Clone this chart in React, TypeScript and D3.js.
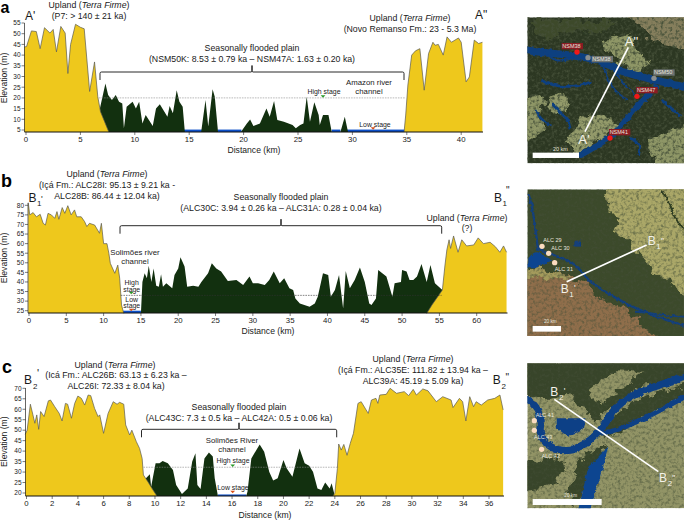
import React from "react";
import * as d3 from "d3";

type P = [number, number];

// ---- Panel a profile readings (km, elevation m)
const aWestUpland: P[] = [[-0.15,43.8],[0.05,44],[0.5,51.3],[0.95,51],[1.3,43],[1.7,52.8],[2.2,50.3],[2.5,52],[2.8,41.5],[3.2,53.4],[3.6,50.3],[3.85,31.4],[4.1,45],[4.55,54.4],[5,53],[5.35,52.3],[5.85,23],[6.3,36.8],[6.6,20.5],[6.85,13.5],[7.6,4.2]];
const aPlain: P[] = [[6.7,13],[7.3,26.7],[7.55,21.3],[7.9,19],[8.25,21.3],[8.55,18.2],[8.85,17.4],[9,5.8],[9.25,15.9],[9.8,18.2],[10.1,15],[10.4,18.2],[10.7,8],[11,12],[11.65,6.9],[11.95,15],[12.3,17],[13,11.2],[13.2,16.2],[13.5,12.8],[13.85,23.6],[14.1,18.2],[14.4,15.9],[14.6,4.1],[16.1,4.1],[16.5,19],[16.75,6.6],[17.15,24],[17.35,20.5],[17.65,4.1],[19.75,4.1],[20.3,8],[20.6,9.9],[20.9,6.9],[21.5,8],[22.1,15],[22.4,11.2],[22.8,18.5],[23.1,9.7],[23.7,8.9],[24.5,7.3],[24.8,5.8],[25.2,7.3],[25.5,8],[25.8,20.5],[26.1,8.9],[26.5,18],[26.9,12],[27,7.3],[27.3,12],[27.8,12],[28.1,4.1],[28.9,4.1],[29.3,11.2],[29.6,4.1]];
const aEastUpland: P[] = [[34.75,4.1],[34.9,12],[35.1,26],[35.45,40],[35.8,42],[36.2,43],[36.6,23.6],[37,40.7],[37.4,46],[37.6,44.6],[37.9,45],[38.35,40],[38.7,48.5],[39.1,46],[39.75,48],[40,46],[40.45,27.5],[40.75,29.8],[41.2,47],[41.6,45.4],[41.95,46]];
const aWater: P[] = [[14.5,16.2],[17.6,19.8],[28.1,28.9],[29.5,34.8]];
const aXTicks = [0,5,10,15,20,25,30,35,40];
const aYTicks = [5,10,15,20,25,30,35,40,45,50,55];

// ---- Panel b
const bWestUpland: P[] = [[-0.1,81.4],[0.1,75],[0.55,76.2],[1,74],[1.5,75.3],[1.9,70.6],[2.2,69.7],[2.55,75.8],[3,75],[3.45,73.2],[3.75,76.7],[4,72.7],[4.45,78.8],[4.8,75.8],[5.2,79.8],[5.65,75],[6.1,77.6],[6.4,74],[7,74],[7.45,71.5],[7.75,68.9],[8.1,70.6],[8.8,69.7],[9.45,65.4],[9.7,70.6],[10,60],[10.45,60],[10.7,55],[10.9,49.7],[11.5,44.5],[11.9,48.8],[12.15,42],[12.4,28],[12.7,23.6]];
const bPlain: P[] = [[15,23.6],[15.2,40],[15.5,44.5],[15.8,41.9],[16.05,48.5],[16.4,40],[16.7,47],[17.05,38],[17.4,37.5],[17.7,44],[17.95,37.5],[18.4,39.3],[19.2,36.7],[19.5,43.6],[20,47],[20.3,52.9],[20.85,48],[21.2,37.5],[22,38],[22.7,37.5],[23.1,40],[24,44.5],[24.5,49.7],[25.1,47],[25.75,45.4],[26.65,40.5],[27.8,41],[28.7,38.4],[29.55,42.8],[30,39.3],[30.7,39.3],[31.6,38.4],[32.2,41],[32.8,45.4],[33.6,39.3],[34.2,41.9],[34.9,36.7],[35.4,35.8],[35.7,31.4],[36.3,28.8],[37.6,27],[38.3,28.8],[38.7,32.3],[39.4,44.5],[40.1,43.6],[40.45,32.3],[41,35.8],[41.55,43.6],[42.1,26.2],[42.45,45.7],[43,36.7],[43.65,41],[44.35,47.5],[45,40],[45.6,28.8],[45.9,28],[46.5,31.4],[46.8,46.2],[47.9,42.8],[48.7,32.3],[49,39.3],[49.85,40],[50,46.2],[50.6,45.4],[51,41],[51.5,41],[52,42.8],[52.6,49.4],[53.3,40],[53.8,48.8],[54.4,39.3],[55.4,35.8],[55.5,23.6]];
const bEastUpland: P[] = [[53.3,23.6],[54,28],[55.4,35.8],[55.75,48.8],[56,56.7],[56.3,62],[56.5,57.5],[56.9,64],[57.5,55.5],[58,62],[58.65,58.8],[59.6,59.3],[60.2,63],[60.9,60],[61.8,60.7],[62.5,58.4],[63.1,55.5],[63.6,58.8],[64,55.5]];
const bWater: P[] = [[12.6,15]];
const bXTicks = [0,5,10,15,20,25,30,35,40,45,50,55,60];
const bYTicks = [25,30,35,40,45,50,55,60,65,70,75,80];

// ---- Panel c
const cWestUpland: P[] = [[-0.1,48],[0.05,50],[0.3,62.4],[0.5,57.3],[0.65,53.3],[0.8,57.3],[0.95,50.4],[1.1,58.9],[1.37,56.5],[1.7,64],[1.87,64.4],[2.2,61.2],[2.55,58],[2.77,54.4],[3.03,62.8],[3.2,62.4],[3.5,55.7],[3.75,62.8],[4,66.3],[4.27,65.2],[4.53,62],[4.8,66.8],[5,66.5],[5.3,60.4],[5.57,56.5],[5.7,57.3],[6,48.5],[6.35,58],[6.75,63.6],[7.05,62.4],[7.25,63.3],[7.57,62.4],[7.72,52.5],[8.03,47.7],[8.2,50],[8.55,44.5],[8.8,41.3],[9,36.5],[9.1,28.6],[9.45,25.4],[9.85,21.4],[10.15,18.6]];
const cPlain: P[] = [[9.2,18.6],[9.3,27],[9.6,28.9],[9.7,23],[10.05,34.2],[10.35,34.2],[10.6,35.3],[11,34.2],[11.4,31],[11.65,23.8],[12.1,19.5],[12.55,22.2],[12.9,35],[13.15,39],[13.3,23.8],[13.55,21.9],[13.85,36.5],[14.2,39.3],[14.5,37.4],[14.65,27],[14.9,18.6],[17.1,18.6],[17.2,20.6],[17.5,36.5],[18.15,43.2],[18.5,39.7],[18.9,30],[19.2,26],[19.55,27],[20,35.8],[20.25,31.8],[20.7,27.8],[21.25,41.3],[21.65,34.2],[22,33],[22.3,30.2],[22.65,22.2],[22.95,21.4],[23.25,25],[23.6,22.2],[23.75,24.6],[24,18.6]];
const cEastUpland: P[] = [[23.85,18.6],[24,19.8],[24.2,31.8],[24.3,43.4],[24.5,40.5],[24.7,43.2],[24.95,38],[25.2,43.7],[25.45,48.5],[25.8,62.8],[26.05,63.6],[26.6,58],[26.85,64.4],[27.2,65.2],[27.35,62.8],[27.5,66.8],[28,67.1],[28.3,70],[28.8,67.6],[29.4,68.4],[29.75,66.5],[30.1,69.5],[30.35,66.8],[30.85,69.7],[31.25,68.8],[31.9,63.6],[32.4,66],[33.05,64.4],[33.2,60.8],[33.7,65.2],[33.95,63.6],[34.2,54.4],[34.5,66],[34.8,61.2],[35,63.6],[35.4,62],[35.9,64.4],[36.45,65.2],[36.85,66.8],[37.1,59.7]];
const cWater: P[] = [[14.9,17.1]];
const cXTicks = d3.range(0, 37, 2);
const cYTicks = [20,25,30,35,40,45,50,55,60,65,70];

const FONT = "'Liberation Sans', Arial, Helvetica, sans-serif";
const YELLOW = "#eec81c";
const DARK = "#12300f";
const BLUE = "#0c4fc8";
const TXT = "#1a1a1a";

type L = { x: number; y: number; t: React.ReactNode; s?: number; a?: string; w?: string; f?: string };
const Lab = ({ x, y, t, s = 8.75, a = "middle", w, f = TXT }: L) => (
  <text x={x} y={y} fontSize={s} textAnchor={a as any} fontWeight={w} fill={f} fontFamily={FONT}>{t}</text>
);
const TF = <tspan fontStyle="italic">Terra Firme</tspan>;

type PanelProps = {
  px: [number, number]; km: [number, number];
  py: [number, number]; el: [number, number];
  base: number; axisX: number; yTop: number; xEnd: number;
  west: P[]; plain: P[]; east: P[]; water: P[];
  xTicks: number[]; yTicks: number[]; xLabY: number;
  flood: number; floodFrom: number; floodTo: number; dashColor: string;
  waterLevel: number; hi: number; hiY: number; lo: number; loY: number;
  brace: [number, number, number, number];
  yTitleY: number; xTitleX: number; xTitleY: number;
};

function Panel(p: PanelProps) {
  const x = d3.scaleLinear().domain(p.km).range(p.px);
  const y = d3.scaleLinear().domain(p.el).range(p.py);
  const area = d3.area<P>().x(d => x(d[0])).y1(d => y(d[1])).y0(p.base);
  const line = d3.line<P>().x(d => x(d[0])).y(d => y(d[1]));
  const [b0, b1, by, bm] = p.brace;
  return (
    <g>
      {p.water.map((w, i) => (
        <rect key={i} x={x(w[0])} width={x(w[1]) - x(w[0])} y={y(p.waterLevel)} height={p.base - y(p.waterLevel)} fill={BLUE} />
      ))}
      <path d={area(p.plain)!} fill={DARK} />
      <path d={area(p.west)!} fill={YELLOW} />
      <path d={area(p.east)!} fill={YELLOW} />
      <path d={line(p.west)!} fill="none" stroke="#5a5a50" strokeWidth={0.7} />
      <path d={line(p.east)!} fill="none" stroke="#5a5a50" strokeWidth={0.7} />
      <line x1={x(p.floodFrom)} x2={x(p.floodTo)} y1={y(p.flood)} y2={y(p.flood)} stroke={p.dashColor} strokeWidth={0.6} strokeDasharray="1.6 1" />
      <path d={`M${x(p.hi) - 2.4},${p.hiY - 1.3}h4.8l-2.4,2.6z`} fill="#2a9a2a" />
      <path d={`M${x(p.lo) - 2.4},${p.loY - 1.3}h4.8l-2.4,2.6z`} fill="#d8501a" />
      <line x1={p.axisX} x2={p.xEnd} y1={p.base} y2={p.base} stroke="#111" strokeWidth={1} />
      <line x1={p.axisX} x2={p.axisX} y1={p.yTop} y2={p.base} stroke="#222" strokeWidth={0.7} />
      {p.yTicks.map(t => (
        <g key={t}>
          <line x1={p.axisX - 3} x2={p.axisX} y1={y(t)} y2={y(t)} stroke="#222" strokeWidth={0.6} />
          <Lab x={p.axisX - 4} y={y(t) + 2.3} t={t} s={6.5} a="end" />
        </g>
      ))}
      {p.xTicks.map(t => (
        <g key={t}>
          <line x1={x(t)} x2={x(t)} y1={p.base} y2={p.base + 3} stroke="#222" strokeWidth={0.6} />
          <Lab x={x(t)} y={p.xLabY} t={t} s={7.8} />
        </g>
      ))}
      <text transform={`translate(7,${p.yTitleY}) rotate(-90)`} fontSize={8.6} textAnchor="middle" fill={TXT} fontFamily={FONT}>Elevation (m)</text>
      <Lab x={p.xTitleX} y={p.xTitleY} t="Distance (km)" s={8.6} />
      <path d={`M${b0},${by + 8}V${by + 1.5}q0,-1.5 1.5,-1.5H${bm - 1}q1,0 1,-1.5v-5v5q0,1.5 1,1.5H${b1 - 1.5}q1.5,0 1.5,1.5V${by + 8}`} fill="none" stroke="#111" strokeWidth={0.9} />
    </g>
  );
}

// Map decoration helpers — drawn in a 3x local frame
const MapText = ({ x, y, t, fill = "#e8e6de", s = 16.5, bg }: { x: number; y: number; t: string; fill?: string; s?: number; bg?: string }) => (
  <g>
    {bg && <rect x={x - 2} y={y - 15} width={t.length * 12.8} height={19} fill={bg} />}
    <text x={x} y={y} fontSize={s} fill={fill} fontFamily={FONT}>{t}</text>
  </g>
);
const Big = ({ x, y, b, sub, mark, s = 36 }: { x: number; y: number; b: string; sub?: string; mark?: string; s?: number }) => (
  <g fill="#f4f2ea" fontFamily={FONT}>
    <text x={x} y={y} fontSize={s}>{b}</text>
    {sub && <text x={x + 26} y={y + 12} fontSize={24}>{sub}</text>}
    {mark && <text x={x + 40} y={y - 4} fontSize={26}>{mark}</text>}
  </g>
);
const Dot = ({ x, y, r = 8, f }: { x: number; y: number; r?: number; f: string }) => <circle cx={x} cy={y} r={r} fill={f} />;

function MapDefs() {
  return (
    <defs>
      <filter id="rough" x="-10%" y="-10%" width="120%" height="120%">
        <feTurbulence type="fractalNoise" baseFrequency="0.035" numOctaves={4} seed={3} result="n" />
        <feDisplacementMap in="SourceGraphic" in2="n" scale={42} xChannelSelector="R" yChannelSelector="G" />
      </filter>
      <filter id="roughRiver" x="-10%" y="-10%" width="120%" height="120%">
        <feTurbulence type="fractalNoise" baseFrequency="0.06" numOctaves={3} seed={8} result="n" />
        <feDisplacementMap in="SourceGraphic" in2="n" scale={12} xChannelSelector="R" yChannelSelector="G" />
      </filter>
      <filter id="grain" x="0" y="0" width="100%" height="100%">
        <feTurbulence type="fractalNoise" baseFrequency="0.11" numOctaves={3} seed={5} />
        <feColorMatrix type="matrix" values="0 0 0 0 0.06  0 0 0 0 0.08  0 0 0 0 0.04  2.6 0 0 0 -1.15" />
      </filter>
      <clipPath id="mapAClip"><rect x={37} y={52} width={470} height={438} /></clipPath>
      <clipPath id="mapBClip"><rect x={37} y={28} width={470} height={440} /></clipPath>
      <clipPath id="mapCClip"><rect x={37} y={40} width={470} height={435} /></clipPath>
    </defs>
  );
}

function MapA() {
  const riv = "#0f3f80";
  return (
    <g transform="translate(515,0) scale(0.3333)">
      <g clipPath="url(#mapAClip)">
        <rect x={37} y={52} width={470} height={438} fill="#2c3722" />
        <g filter="url(#rough)">
          <path d="M330,40H520V150L440,135L400,115L380,80Z" fill="#857e5c" />
          <path d="M250,125L340,100L365,150L405,190L370,218L320,195L290,160Z" fill="#8e9666" />
          <path d="M25,280L90,300L75,345L95,380L60,410L25,430Z" fill="#8e9666" />
          <path d="M95,295L150,280L162,320L130,342L100,322Z" fill="#939a6a" />
          <path d="M165,400L210,342L280,350L312,376L270,408L190,462L160,440Z" fill="#939a6a" />
          <path d="M400,425L520,370V500H420Z" fill="#8e9666" />
          <path d="M60,60H300L260,100L190,90L120,115L60,105Z" fill="#3e4a2c" />
        </g>
        <rect x={37} y={52} width={470} height={438} filter="url(#grain)" />
        <g filter="url(#roughRiver)" fill="none" stroke={riv}>
          <path d="M20,148C100,165 200,160 270,190C330,225 400,235 525,265" strokeWidth={22} />
          <path d="M80,145C110,190 150,190 185,165" strokeWidth={6} />
          <path d="M190,470C240,440 290,420 340,350C370,310 400,290 425,255" strokeWidth={17} />
          <path d="M265,200C280,250 300,280 340,300M300,215C320,250 340,260 360,285" strokeWidth={5} />
          <path d="M110,310C135,340 160,350 165,385M110,375C90,370 70,350 60,330M345,415C370,420 380,440 370,465M440,300C460,320 480,330 495,350M80,240C130,270 190,260 230,245" strokeWidth={8} />
        </g>
      </g>
      <line x1={210} y1={395} x2={340} y2={142} stroke="#fff" strokeWidth={5} />
      <Dot x={186} y={156} f="#f01818" />
      <Dot x={219} y={173} f="#8b8f8e" />
      <Dot x={417} y={235} f="#8b8f8e" />
      <Dot x={366} y={289} f="#f01818" />
      <Dot x={285} y={414} f="#f01818" />
      <MapText x={142} y={144} t="NSM38" bg="#8a1c24" />
      <MapText x={232} y={183} t="NSM38" bg="#6d7372" />
      <MapText x={417} y={223} t="NSM50" bg="#6d7372" />
      <MapText x={366} y={276} t="NSM47" bg="#8a1c24" />
      <MapText x={284} y={402} t="NSM41" bg="#8a1c24" />
      <Big x={329} y={138} b={"A\""} s={40} />
      <Big x={190} y={432} b="A'" s={40} />
      <rect x={53} y={458} width={139} height={16} fill="#fff" />
      <MapText x={114} y={452} t="20 km" />
    </g>
  );
}

function MapB() {
  const riv = "#123f7a";
  return (
    <g transform="translate(515,180) scale(0.3333)">
      <g clipPath="url(#mapBClip)">
        <rect x={37} y={28} width={470} height={440} fill="#3c4a2b" />
        <g filter="url(#rough)">
          <path d="M270,15H520V345L465,315L420,275L380,225L335,175L290,150L315,120L280,85Z" fill="#aaa768" />
          <path d="M300,140L345,125L360,160L320,175Z" fill="#aaa768" />
          <path d="M25,262L130,272L210,312L240,345L320,385L372,425L425,480H25Z" fill="#8f6e4b" />
          <path d="M25,262L130,272L170,295L100,300L25,290Z" fill="#a39a5c" />
        </g>
        <rect x={37} y={28} width={470} height={440} filter="url(#grain)" opacity={0.6} />
        <g filter="url(#roughRiver)">
          <path d="M40,40C60,100 60,150 70,210C130,230 180,240 220,300C300,360 380,400 520,440" fill="none" stroke={riv} strokeWidth={7} />
          <path d="M360,395C400,395 440,410 510,410" fill="none" stroke={riv} strokeWidth={6} />
          <path d="M40,235Q60,205 85,225L110,240L60,265L40,265Z" fill="#0f4590" />
          <rect x={178} y={182} width={20} height={18} fill={riv} />
          <path d="M440,28C470,80 480,120 507,150" fill="none" stroke="#2c3a20" strokeWidth={5} />
        </g>
      </g>
      <line x1={155} y1={305} x2={395} y2={195} stroke="#fff" strokeWidth={5} />
      <Dot x={81} y={199} f="#fbdcc0" />
      <Dot x={101} y={220} f="#fbdcc0" />
      <Dot x={119} y={248} f="#fbdcc0" />
      <MapText x={85} y={186} t="ALC 29" />
      <MapText x={109} y={211} t="ALC 30" />
      <MapText x={119} y={272} t="ALC 31" />
      <Big x={137} y={338} b="B" sub="1" mark="'" />
      <Big x={398} y={196} b="B" sub="1" mark={"\""} />
      <rect x={53} y={438} width={85} height={17} fill="#fff" />
      <MapText x={87} y={430} t="20 km" s={14} />
    </g>
  );
}

function MapC() {
  const riv = "#0f3f86";
  return (
    <g transform="translate(515,350) scale(0.3333)">
      <g clipPath="url(#mapCClip)">
        <rect x={37} y={40} width={470} height={435} fill="#929466" />
        <g filter="url(#rough)">
          <path d="M25,25H520V90L380,110L290,170L240,215L170,130L100,150L25,130Z" fill="#39452b" />
          <path d="M210,130L290,60L380,65L330,110L250,160Z" fill="#929466" />
          <path d="M25,350L100,320L150,330L130,400L60,420L25,410Z" fill="#39452b" />
          <path d="M200,320L270,290L250,370L210,420L170,470L160,430Z" fill="#39452b" />
          <path d="M270,230C310,170 420,120 520,105L520,140C430,180 380,200 330,240L260,265Z" fill="#39452b" />
        </g>
        <rect x={37} y={40} width={470} height={435} filter="url(#grain)" opacity={0.6} />
        <g filter="url(#roughRiver)">
          <path d="M25,145C70,160 80,200 75,240C80,280 120,310 170,300C230,280 260,240 290,190C330,130 420,110 520,78" fill="none" stroke={riv} strokeWidth={22} />
          <path d="M260,250C330,240 420,190 520,135" fill="none" stroke={riv} strokeWidth={14} />
          <path d="M125,205H215L200,240L160,260L125,235Z" fill={riv} />
          <path d="M190,480L220,350L280,290L260,370L240,430L225,480Z" fill="#0f4590" />
        </g>
      </g>
      <line x1={118} y1={148} x2={430} y2={365} stroke="#fff" strokeWidth={5} />
      <Dot x={58} y={212} f="#fbdcc0" />
      <Dot x={58} y={241} f="#fbdcc0" />
      <Dot x={80} y={298} f="#fbdcc0" />
      <MapText x={62} y={200} t="ALC 41" />
      <MapText x={57} y={267} t="ALC 43" />
      <MapText x={80} y={323} t="ALC 42" />
      <Big x={106} y={137} b="B" sub="2" mark="'" />
      <Big x={432} y={396} b="B" sub="2" mark={"\""} />
      <rect x={53} y={447} width={207} height={18} fill="#fff" />
      <MapText x={148} y={441} t="20 km" s={14} />
    </g>
  );
}

export default function App() {
  return (
    <svg width={685} height={520} viewBox="0 0 685 520" style={{ position: "absolute", left: 0, top: 0, background: "#fff" }}>
      <MapDefs />
      {/* Panel a */}
      <Panel px={[26, 461.2]} km={[0, 40]} py={[130, 23]} el={[5, 55]} base={132} axisX={24.5} yTop={23} xEnd={483}
        west={aWestUpland} plain={aPlain} east={aEastUpland} water={aWater} xTicks={aXTicks} yTicks={aYTicks} xLabY={142}
        flood={20} floodFrom={6.7} floodTo={34.9} dashColor="#8a8a8a" waterLevel={5.2} hi={27.3} hiY={96.5} lo={31.9} loY={128.5}
        brace={[100, 404, 72, 252]} yTitleY={78} xTitleX={254} xTitleY={153} />
      <Lab x={0.5} y={12.5} t="a" s={16} a="start" w="bold" f="#000" />
      <Lab x={25} y={20} t="A'" s={12} a="start" />
      <Lab x={89} y={8} t={<>Upland ({TF})</>} />
      <Lab x={89} y={18.5} t="(P7: > 140 ± 21 ka)" />
      <Lab x={252} y={51} t="Seasonally flooded plain" />
      <Lab x={252} y={61.5} t="(NSM50K: 8.53 ± 0.79 ka – NSM47A: 1.63 ± 0.20 ka)" />
      <Lab x={369} y={85} t="Amazon river" s={7.8} />
      <Lab x={369} y={94} t="channel" s={7.8} />
      <Lab x={324} y={94} t="High stage" s={6.9} />
      <Lab x={375} y={127} t="Low stage" s={6.9} />
      <Lab x={410} y={21} t={<>Upland ({TF})</>} />
      <Lab x={410} y={32} t="(Novo Remanso Fm.: 23 - 5.3 Ma)" />
      <Lab x={475} y={19} t={"A\""} s={12} a="start" />

      {/* Panel b */}
      <Panel px={[29, 476.7]} km={[0, 60]} py={[310.7, 205.3]} el={[25, 80]} base={313} axisX={28} yTop={203} xEnd={507.5}
        west={bWestUpland} plain={bPlain} east={bEastUpland} water={bWater} xTicks={bXTicks} yTicks={bYTicks} xLabY={322.7}
        flood={33} floodFrom={12.3} floodTo={55.3} dashColor="#333" waterLevel={25} hi={13.7} hiY={293} lo={13.7} loY={310}
        brace={[120, 441.7, 225.7, 281]} yTitleY={258} xTitleX={268} xTitleY={334} />
      <Lab x={1} y={187} t="b" s={18} a="start" w="bold" f="#000" />
      <Lab x={107} y={177} t={<>Upland ({TF})</>} />
      <Lab x={107} y={188} t="(Içá Fm.: ALC28I: 95.13 ± 9.21 ka -" />
      <Lab x={107} y={199} t="ALC28B: 86.44 ± 12.04 ka)" />
      <Lab x={28.5} y={201.7} t="B" s={12} a="start" />
      <Lab x={37} y={206} t="1" s={8} a="start" />
      <Lab x={41} y={202} t="'" s={9} a="start" />
      <Lab x={281} y={200} t="Seasonally flooded plain" />
      <Lab x={281} y={210.7} t="(ALC30C: 3.94 ± 0.26 ka – ALC31A: 0.28 ± 0.04 ka)" />
      <Lab x={135} y={255} t="Solimões river" s={7.8} />
      <Lab x={135} y={263.7} t="channel" s={7.8} />
      <Lab x={131.7} y={285} t="High" s={6.9} />
      <Lab x={131.7} y={291.7} t="stage" s={6.9} />
      <Lab x={131.7} y={301.7} t="Low" s={6.9} />
      <Lab x={131.7} y={308} t="stage" s={6.9} />
      <Lab x={467} y={220.7} t={<>Upland ({TF})</>} />
      <Lab x={467} y={231} t="(?)" />
      <Lab x={494} y={201.7} t="B" s={12} a="start" />
      <Lab x={502.5} y={206} t="1" s={8} a="start" />
      <Lab x={506} y={194} t={"\""} s={10} a="start" />

      {/* Panel c */}
      <Panel px={[26.5, 489]} km={[0, 36]} py={[493, 388.3]} el={[20, 70]} base={496} axisX={25.5} yTop={388} xEnd={504}
        west={cWestUpland} plain={cPlain} east={cEastUpland} water={cWater} xTicks={cXTicks} yTicks={cYTicks} xLabY={506}
        flood={32.3} floodFrom={9.1} floodTo={24.3} dashColor="#8a8a8a" waterLevel={19.3} hi={16.05} hiY={465.7} lo={16.05} loY={492}
        brace={[141.5, 336.7, 429.3, 239]} yTitleY={441.7} xTitleX={265} xTitleY={518} />
      <Lab x={2} y={373} t="c" s={18} a="start" w="bold" f="#000" />
      <Lab x={115} y={367.7} t={<>Upland ({TF})</>} />
      <Lab x={116} y={378} t="(Icá Fm.: ALC26B: 63.13 ± 6.23 ka –" />
      <Lab x={116} y={389} t="ALC26I: 72.33 ± 8.04 ka)" />
      <Lab x={24} y={384} t="B" s={12} a="start" />
      <Lab x={33} y={389} t="2" s={8} a="start" />
      <Lab x={37} y={377} t="'" s={11} a="start" />
      <Lab x={239} y={410} t="Seasonally flooded plain" />
      <Lab x={239} y={420.7} t="(ALC43C: 7.3 ± 0.5 ka – ALC42A: 0.5 ± 0.06 ka)" />
      <Lab x={232} y={443} t="Solimões River" s={7.8} />
      <Lab x={232} y={451.7} t="channel" s={7.8} />
      <Lab x={233} y={463} t="High stage" s={6.9} />
      <Lab x={233} y={490} t="Low stage" s={6.9} />
      <Lab x={413} y={362} t={<>Upland ({TF})</>} />
      <Lab x={413} y={373} t="(Içá Fm.: ALC35E: 111.82 ± 13.94 ka –" />
      <Lab x={413} y={384} t="ALC39A: 45.19 ± 5.09 ka)" />
      <Lab x={492.7} y={384} t="B" s={12} a="start" />
      <Lab x={501.5} y={389} t="2" s={8} a="start" />
      <Lab x={505.5} y={381} t={"\""} s={10} a="start" />

      <MapA />
      <MapB />
      <MapC />
    </svg>
  );
}
